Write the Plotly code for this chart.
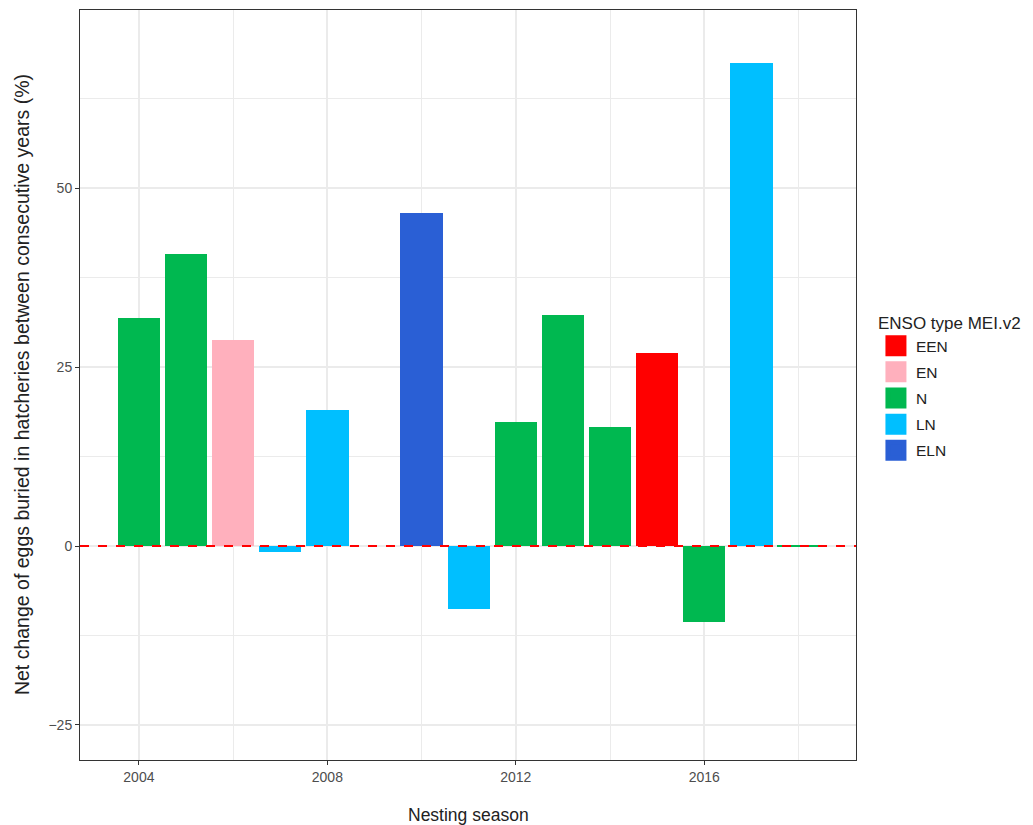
import plotly.graph_objects as go

# Net change of eggs buried in hatcheries by nesting season
seasons = [2004, 2005, 2006, 2007, 2008, 2010, 2011, 2012, 2013, 2014, 2015, 2016, 2017, 2018]
net_change = [31.8, 40.8, 28.8, -0.8, 19.0, 46.6, -8.8, 17.3, 32.3, 16.6, 27.0, -10.6, 67.5, 0.2]
enso_type = ["N", "N", "EN", "LN", "LN", "ELN", "LN", "N", "N", "N", "EEN", "N", "LN", "N"]

categories = ["EEN", "EN", "N", "LN", "ELN"]
colors = {"EEN": "#FF0000", "EN": "#FFB0BD", "N": "#00B850", "LN": "#00BFFF", "ELN": "#2A5FD5"}

x_ticks = [2004, 2008, 2012, 2016]
y_ticks = [-25, 0, 25, 50]

FONT = "Liberation Sans, Arial, sans-serif"

fig = go.Figure()
for cat in categories:
    xs = [s for s, t in zip(seasons, enso_type) if t == cat]
    ys = [v for v, t in zip(net_change, enso_type) if t == cat]
    fig.add_trace(go.Bar(x=xs, y=ys, name=cat, legendgroup=cat, showlegend=False,
                         marker=dict(color=colors[cat], line=dict(width=0)), width=0.9))
    # square legend key for the category
    fig.add_trace(go.Scatter(x=[None], y=[None], mode="markers", name=cat, legendgroup=cat,
                             marker=dict(symbol="square", size=16, color=colors[cat],
                                         line=dict(width=5, color=colors[cat]))))

# zero reference line
fig.add_hline(y=0, line=dict(color="#FF0000", width=2.2, dash="dash"), layer="above")

grid = "#EBEBEB"
fig.update_layout(
    width=1033, height=825,
    margin=dict(l=80, r=175, t=10, b=65),
    plot_bgcolor="white", paper_bgcolor="white",
    barmode="overlay", bargap=0,
    font=dict(family=FONT, color="#222222"),
    legend=dict(
        title=dict(text="ENSO type MEI.v2", font=dict(size=17, color="#222222")),
        font=dict(size=15.5, color="#222222"),
        x=1.0257, xanchor="left", y=0.604, yanchor="top",
        traceorder="grouped", itemwidth=30, tracegroupgap=3,
    ),
    xaxis=dict(
        range=[2002.75, 2019.22], tickmode="array", tickvals=x_ticks,
        ticktext=[str(v) for v in x_ticks],
        showgrid=True, gridcolor=grid, gridwidth=1.5,
        minor=dict(tick0=2004, dtick=2, showgrid=True, gridcolor=grid, gridwidth=1, ticklen=0),
        ticks="outside", ticklen=4, tickcolor="#333333", tickwidth=1,
        tickfont=dict(size=14, color="#4D4D4D"),
        showline=True, linecolor="#333333", linewidth=1, mirror=True, zeroline=False,
        automargin=False,
    ),
    yaxis=dict(
        range=[-29.9, 74.9], tickmode="array", tickvals=y_ticks,
        showgrid=True, gridcolor=grid, gridwidth=1.5,
        minor=dict(tick0=0, dtick=12.5, showgrid=True, gridcolor=grid, gridwidth=1, ticklen=0),
        ticks="outside", ticklen=4, tickcolor="#333333", tickwidth=1,
        tickfont=dict(size=14, color="#4D4D4D"),
        showline=True, linecolor="#333333", linewidth=1, mirror=True, zeroline=False,
        automargin=False,
    ),
    annotations=[
        dict(text="Nesting season", xref="paper", yref="paper", x=0.5, y=-0.0733,
             xanchor="center", yanchor="middle", showarrow=False,
             font=dict(size=17.5, color="#222222", family=FONT)),
        dict(text="Net change of eggs buried in hatcheries between consecutive years (%)",
             xref="paper", yref="paper", x=-0.0746, y=0.5, textangle=-90,
             xanchor="center", yanchor="middle", showarrow=False,
             font=dict(size=19.5, color="#222222", family=FONT)),
    ],
)

fig.write_html("out.html")
